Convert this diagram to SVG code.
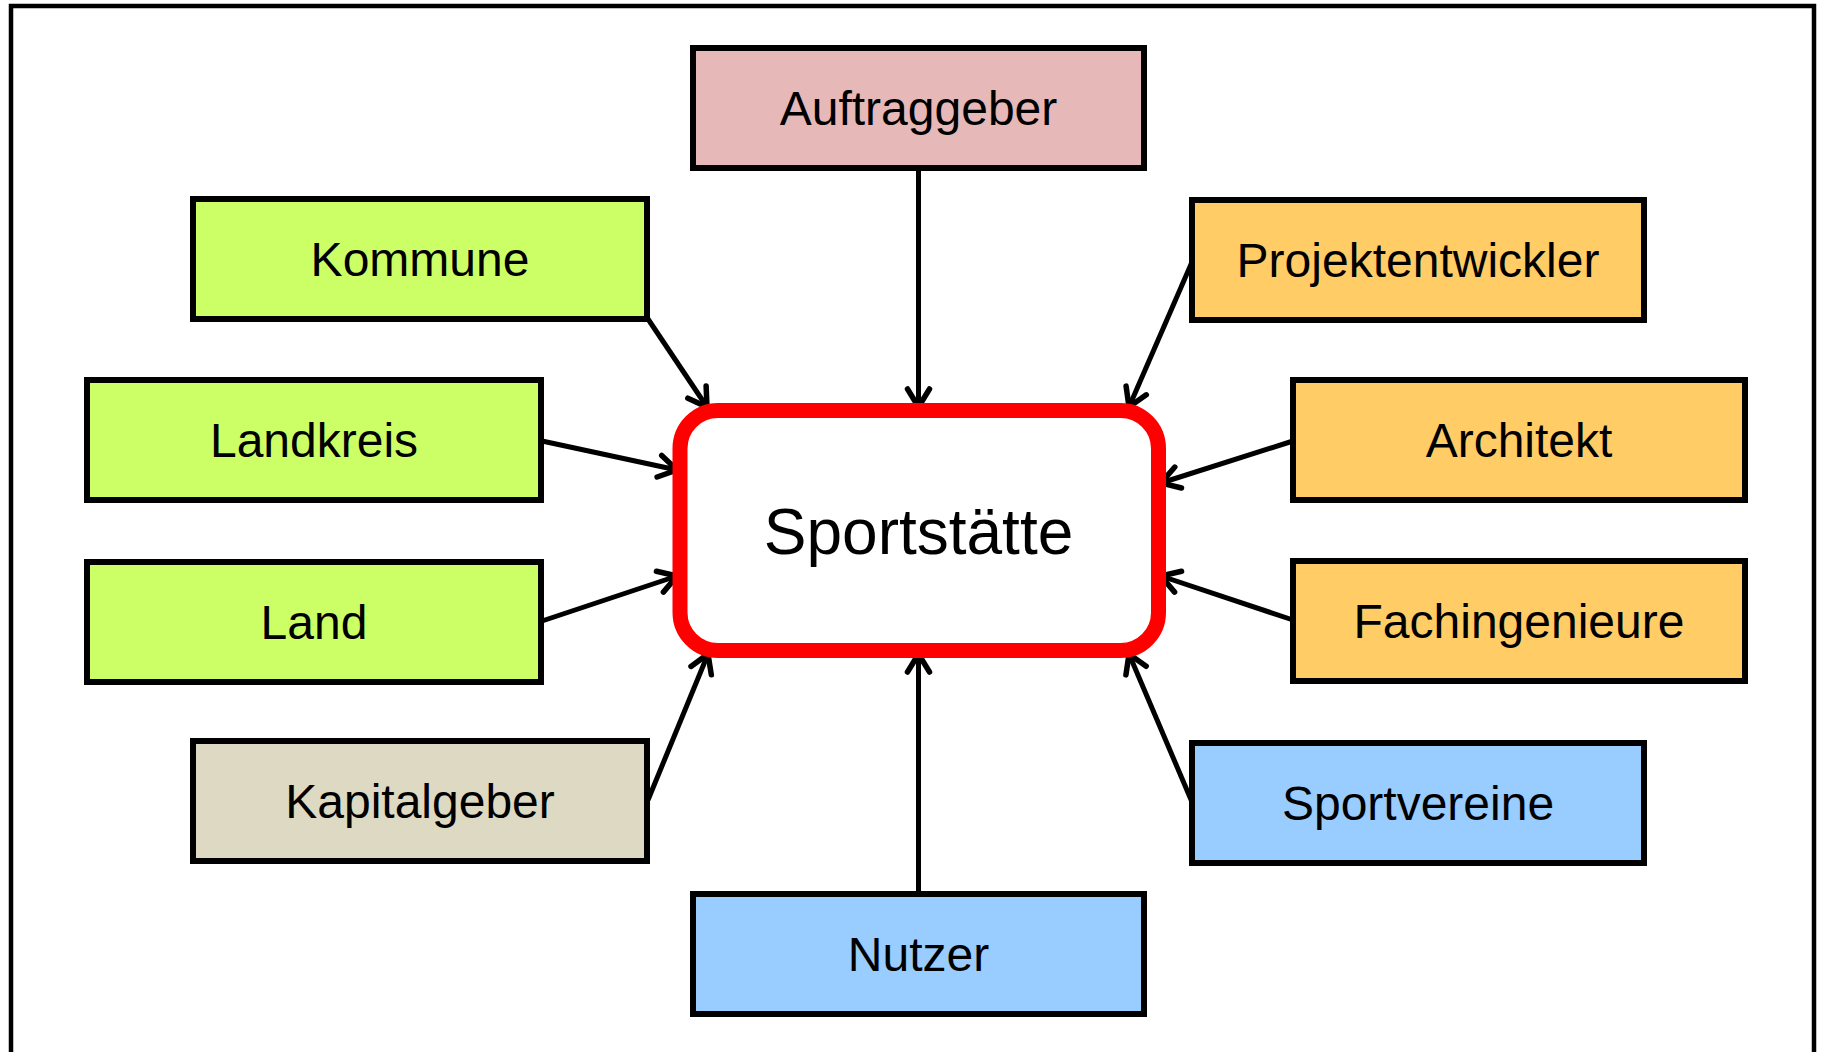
<svg xmlns="http://www.w3.org/2000/svg" width="1823" height="1052" viewBox="0 0 1823 1052">
<style>
.box{stroke:#000;stroke-width:6;}
.lbl{font-family:"Liberation Sans",Arial,sans-serif;font-size:48px;fill:#000;text-anchor:middle;}
.green{fill:#CCFF66;}
.orange{fill:#FFCC66;}
.blue{fill:#99CCFF;}
.pink{fill:#E6B8B7;}
.tan{fill:#DDD9C3;}
.conn{stroke:#000;stroke-width:5;fill:none;marker-end:url(#arr);}
</style>
<defs>
<marker id="arr" markerUnits="userSpaceOnUse" viewBox="-24 -16 28 32" markerWidth="28" markerHeight="32" refX="0" refY="0" orient="auto">
<path d="M -18 -11 L 0 0 L -18 11" fill="none" stroke="#000" stroke-width="5.5" stroke-linecap="round" stroke-linejoin="miter"/>
</marker>
</defs>
<rect x="0" y="0" width="1823" height="1052" fill="#fff"/>
<rect x="11" y="6" width="1803" height="1100" fill="none" stroke="#000" stroke-width="4.5"/>
<g id="connectors">
<line class="conn" x1="918.5" y1="167" x2="918.5" y2="407"/>
<line class="conn" x1="648" y1="319" x2="707" y2="407"/>
<line class="conn" x1="1192" y1="262" x2="1129" y2="407"/>
<line class="conn" x1="542" y1="441" x2="677" y2="470"/>
<line class="conn" x1="542" y1="621" x2="677" y2="576"/>
<line class="conn" x1="1293" y1="441" x2="1161" y2="483"/>
<line class="conn" x1="1293" y1="620" x2="1161" y2="576"/>
<line class="conn" x1="648" y1="800" x2="708" y2="654"/>
<line class="conn" x1="1192" y1="802" x2="1129" y2="654"/>
<line class="conn" x1="918.5" y1="894" x2="918.5" y2="654"/>
</g>
<g id="sportstaette">
<rect x="680" y="410.5" width="478.5" height="240" rx="38" ry="38" fill="#fff" stroke="#FF0000" stroke-width="15"/>
<text class="lbl" x="918.5" y="554" style="font-size:64px">Sportstätte</text>
</g>
<g id="auftraggeber">
<rect class="box pink" x="693" y="48" width="451" height="120"/>
<text class="lbl" x="918.5" y="125">Auftraggeber</text>
</g>
<g id="kommune">
<rect class="box green" x="193" y="199" width="454" height="120"/>
<text class="lbl" x="420" y="276">Kommune</text>
</g>
<g id="projektentwickler">
<rect class="box orange" x="1192" y="200" width="452" height="120"/>
<text class="lbl" x="1418" y="277">Projektentwickler</text>
</g>
<g id="landkreis">
<rect class="box green" x="87" y="380" width="454" height="120"/>
<text class="lbl" x="314" y="457">Landkreis</text>
</g>
<g id="architekt">
<rect class="box orange" x="1293" y="380" width="452" height="120"/>
<text class="lbl" x="1519" y="457">Architekt</text>
</g>
<g id="land">
<rect class="box green" x="87" y="562" width="454" height="120"/>
<text class="lbl" x="314" y="639">Land</text>
</g>
<g id="fachingenieure">
<rect class="box orange" x="1293" y="561" width="452" height="120"/>
<text class="lbl" x="1519" y="638">Fachingenieure</text>
</g>
<g id="kapitalgeber">
<rect class="box tan" x="193" y="741" width="454" height="120"/>
<text class="lbl" x="420" y="818">Kapitalgeber</text>
</g>
<g id="sportvereine">
<rect class="box blue" x="1192" y="743" width="452" height="120"/>
<text class="lbl" x="1418" y="820">Sportvereine</text>
</g>
<g id="nutzer">
<rect class="box blue" x="693" y="894" width="451" height="120"/>
<text class="lbl" x="918.5" y="971">Nutzer</text>
</g>
</svg>
